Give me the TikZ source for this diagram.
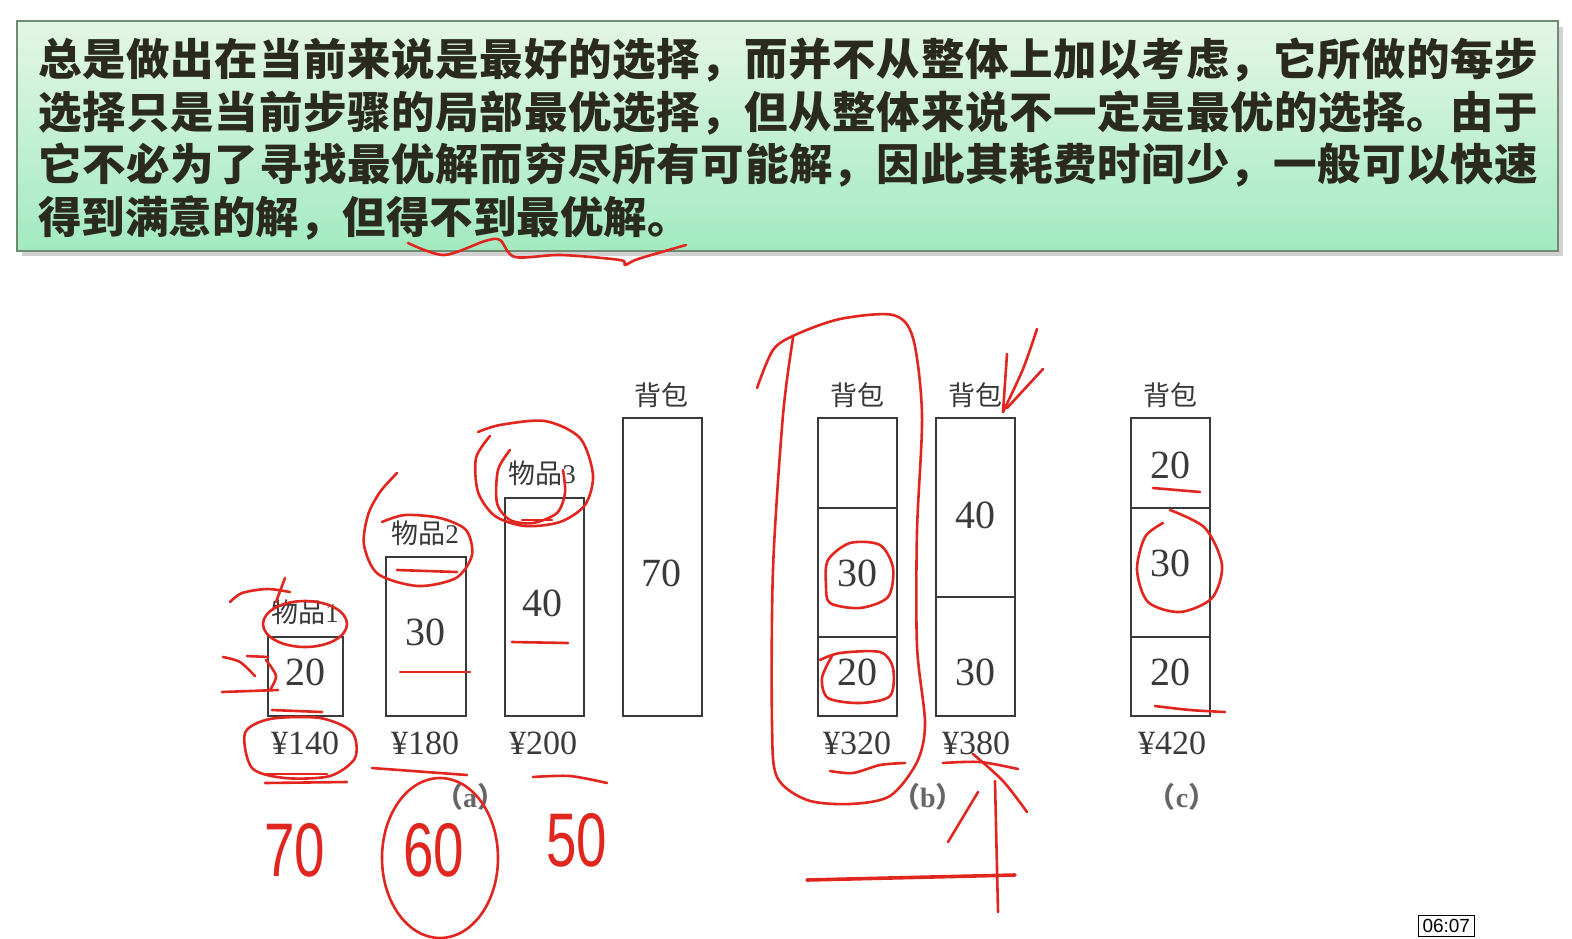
\documentclass[tikz,border=0pt]{standalone}
\usepackage{fontspec}
\setmainfont{Liberation Serif}
\newfontfamily\cjk{Noto Sans CJK SC}
\newfontfamily\hand{Liberation Sans}
\XeTeXlinebreaklocale "zh"
\XeTeXlinebreakskip=0pt plus 2pt
\definecolor{mintTop}{HTML}{E4F6E6}
\definecolor{mintBot}{HTML}{A2EAC0}
\definecolor{boxEdge}{HTML}{6E8C74}
\definecolor{ink}{HTML}{E0261F}
\definecolor{txt}{HTML}{2A2A1E}
\definecolor{fig}{HTML}{3A3A3A}
\begin{document}
\begin{tikzpicture}[x=1pt, y=-1pt,
  every node/.style={inner sep=0pt},
  pack/.style={draw=fig, line width=2pt},
  num/.style={font=\fontsize{40}{40}\selectfont, text=fig},
  price/.style={font=\fontsize{34}{34}\selectfont, text=fig},
  tag/.style={font=\cjk\fontsize{27}{27}\selectfont, text=black!78},
  sublabel/.style={font=\bfseries\fontsize{28}{28}\selectfont, text=black!60},
  pen/.style={draw=ink, line width=2.6pt, line cap=round, line join=round},
  digits/.style={font=\hand\fontsize{76}{76}\selectfont, text=ink}]
  \useasboundingbox (0,0) rectangle (1572,938);
  \fill[white] (0,0) rectangle (1572,938);
  % green box with the rule
  \fill[black!18] (22,27) rectangle (1563,256);
  \shadedraw[top color=mintTop, bottom color=mintBot, draw=boxEdge, line width=1.5pt] (17,21) rectangle (1558,251);
  \node[anchor=north west, text width=1500pt, align=justify, font=\cjk\bfseries\fontsize{43.5}{52.5}\selectfont, text=txt] (rule) at (38,38) {总是做出在当前来说是最好的选择，而并不从整体上加以考虑，它所做的每步\linebreak 选择只是当前步骤的局部最优选择，但从整体来说不一定是最优的选择。由于\linebreak 它不必为了寻找最优解而穷尽所有可能解，因此其耗费时间少，一般可以快速\linebreak 得到满意的解，但得不到最优解。};

  % (a) items and knapsack
  \draw[pack] (268,637) rectangle (343,716);
  \draw[pack] (386,557) rectangle (466,716);
  \draw[pack] (505,498) rectangle (584,716);
  \draw[pack] (623,418) rectangle (702,716);
  \node[tag] (t1) at (305,612) {物品{\rmfamily 1}};
  \node[tag] (t2) at (425,533) {物品{\rmfamily 2}};
  \node[tag] (t3) at (542,473) {物品{\rmfamily 3}};
  \node[tag] (ka) at (661,395) {背包};
  \node[num] (w1) at (305,672) {20};
  \node[num] (w2) at (425,632) {30};
  \node[num] (w3) at (542,603) {40};
  \node[num] (wa) at (661,573) {70};
  \node[price] (p1) at (305,743) {¥140};
  \node[price] (p2) at (425,743) {¥180};
  \node[price] (p3) at (543,743) {¥200};
  \node[sublabel] (ca) at (470,797) {{\cjk （}a{\cjk ）}};

  % (b) two fillings
  \draw[pack] (818,418) rectangle (897,716);
  \draw[pack] (818,508) -- (897,508) (818,637) -- (897,637);
  \draw[pack] (936,418) rectangle (1015,716);
  \draw[pack] (936,597) -- (1015,597);
  \node[tag] (kb1) at (857,395) {背包};
  \node[tag] (kb2) at (975,395) {背包};
  \node[num] (b30) at (857,573) {30};
  \node[num] (b20) at (857,672) {20};
  \node[num] (b40) at (975,515) {40};
  \node[num] (b30r) at (975,672) {30};
  \node[price] (p4) at (857,743) {¥320};
  \node[price] (p5) at (976,743) {¥380};
  \node[sublabel] (cb) at (928,797) {{\cjk （}b{\cjk ）}};

  % (c) best filling
  \draw[pack] (1131,418) rectangle (1210,716);
  \draw[pack] (1131,508) -- (1210,508) (1131,637) -- (1210,637);
  \node[tag] (kc) at (1170,395) {背包};
  \node[num] (c20t) at (1170,465) {20};
  \node[num] (c30) at (1170,563) {30};
  \node[num] (c20b) at (1170,672) {20};
  \node[price] (p6) at (1172,743) {¥420};
  \node[sublabel] (cc) at (1182,797) {{\cjk （}c{\cjk ）}};

  % red pen marks
  \draw[pen] plot[smooth] coordinates {(408,243) (444,255) (485,241) (500,240) (515,257) (561,255) (620,260) (625,265) (638,259) (686,245)};
  \draw[pen] plot[smooth] coordinates {(230,602) (242,593) (267,589) (290,592)};
  \draw[pen] (285,578) -- (276,602);
  \draw[pen] (305,624) ellipse [x radius=42, y radius=23];
  \draw[pen] plot[smooth] coordinates {(223,657) (240,662) (255,676)};
  \draw[pen] (247,656) -- (268,657);
  \draw[pen] (222,692) -- (278,690);
  \draw[pen] plot[smooth] coordinates {(266,660) (276,676) (270,690)};
  \draw[pen] (272,710) -- (322,712);
  \draw[pen] plot[smooth cycle] coordinates {(245,733) (270,719) (320,718) (352,732) (355,758) (330,776) (285,778) (252,768)};
  \draw[pen] (267,774) -- (327,774);
  \draw[pen] (265,783) -- (347,782);
  \draw[pen] plot[smooth] coordinates {(397,473) (380,492) (368,515) (364,545) (378,574) (418,586) (456,578) (472,555) (466,530) (440,518) (405,515) (382,522)};
  \draw[pen] (397,570) -- (457,572);
  \draw[pen] (400,672) -- (470,672);
  \draw[pen] plot[smooth] coordinates {(478,432) (500,425) (545,421) (580,438) (593,475) (585,505) (560,522) (525,526) (495,516) (478,492) (476,458) (490,436)};
  \draw[pen] plot[smooth] coordinates {(510,450) (498,470) (497,503) (510,520) (533,523) (557,513) (565,493) (563,470)};
  \draw[pen] (522,520) -- (552,520);
  \draw[pen] (512,642) -- (568,643);
  \draw[pen] (372,768) -- (467,775);
  \draw[pen] plot[smooth] coordinates {(533,777) (570,776) (607,783)};
  \draw[pen] (440,858) ellipse [x radius=58, y radius=80];
  \node[digits] (h70) at (295,850) {\scalebox{0.72}[1]{70}};
  \node[digits] (h60) at (434,850) {\scalebox{0.72}[1]{60}};
  \node[digits] (h50) at (577,840) {\scalebox{0.72}[1]{50}};
  \draw[pen] plot[smooth] coordinates {(757,388) (773,350) (795,335) (840,319) (893,315) (913,338) (922,415) (917,531) (917,646) (925,723) (917,762) (890,796) (850,804) (807,800) (777,777) (772,723) (773,569) (783,415) (793,338)};
  \draw[pen] plot[smooth cycle] coordinates {(828,560) (850,543) (880,545) (893,568) (888,597) (860,608) (830,603) (826,585)};
  \draw[pen] plot[smooth] coordinates {(820,660) (840,653) (880,652) (893,668) (890,696) (860,703) (828,698) (822,678) (832,656)};
  \draw[pen] plot[smooth] coordinates {(830,771) (853,773) (880,765) (905,763)};
  \draw[pen] plot[smooth] coordinates {(1037,329) (1023,369) (1003,412)};
  \draw[pen] (1007,354) -- (1003,412);
  \draw[pen] (1043,369) -- (1007,408);
  \draw[pen] plot[smooth] coordinates {(943,763) (980,762) (1018,769)};
  \draw[pen] plot[smooth] coordinates {(973,754) (1003,781) (1027,812)};
  \draw[pen] (995,781) -- (998,912);
  \draw[pen] (978,792) -- (948,842);
  \draw[pen, line width=3.6pt] (807,880) -- (1015,875);
  \draw[pen] (1153,488) -- (1200,492);
  \draw[pen] plot[smooth] coordinates {(1170,510) (1205,528) (1222,565) (1212,598) (1180,612) (1148,602) (1137,570) (1145,537) (1163,523)};
  \draw[pen] plot[smooth] coordinates {(1155,706) (1190,710) (1225,712)};

  % video time stamp
  \node[draw=black, line width=1pt, font=\hand\fontsize{19}{19}\selectfont, inner xsep=4pt, inner ysep=4pt, anchor=north west] (clock) at (1418,915) {06:07};
\end{tikzpicture}
\end{document}
